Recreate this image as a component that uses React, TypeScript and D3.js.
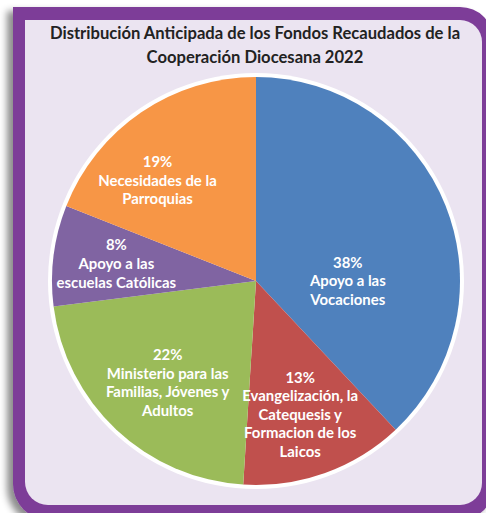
import React from "react";
import * as d3 from "d3";

const categories = [
  "Apoyo a las Vocaciones",
  "Evangelización, la Catequesis y Formacion de los Laicos",
  "Ministerio para las Familias, Jóvenes y Adultos",
  "Apoyo a las escuelas Católicas",
  "Necesidades de la Parroquias",
];
const values = [38, 13, 22, 8, 19];
const labelLines = [
  ["Apoyo a las", "Vocaciones"],
  ["Evangelización, la", "Catequesis y", "Formacion de los", "Laicos"],
  ["Ministerio para las", "Familias, Jóvenes y", "Adultos"],
  ["Apoyo a las", "escuelas Católicas"],
  ["Necesidades de la", "Parroquias"],
];
const colors = ["#4F81BD", "#C0504D", "#9BBB59", "#8064A2", "#F79646"];
const titleLines = [
  "Distribución Anticipada de los Fondos Recaudados de la",
  "Cooperación Diocesana 2022",
];

// layout (label placement: [angle in degrees clockwise from top, distance as fraction of radius])
const labelPlacement: ([number, number] | null)[] = [
  [90, 0.45],
  [161.7, 0.69],
  [221, 0.66],
  [277, 0.69],
  [315.6, 0.69],
];

const W = 486;
const H = 513;
const cx = 256;
const cy = 281;
const R = 204;

function roundRect(x0: number, y0: number, x1: number, y1: number, tl: number, tr: number, br: number, bl: number) {
  return [
    `M${x0 + tl},${y0}`,
    `L${x1 - tr},${y0}`,
    `A${tr},${tr} 0 0 1 ${x1},${y0 + tr}`,
    `L${x1},${y1 - br}`,
    `A${br},${br} 0 0 1 ${x1 - br},${y1}`,
    `L${x0 + bl},${y1}`,
    `A${bl},${bl} 0 0 1 ${x0},${y1 - bl}`,
    `L${x0},${y0 + tl}`,
    tl > 0 ? `A${tl},${tl} 0 0 1 ${x0 + tl},${y0}` : "",
    "Z",
  ].join(" ");
}

export default function App() {
  const pie = d3
    .pie<number>()
    .sort(null)
    .value((d) => d)(values);
  const arc = d3.arc<d3.PieArcDatum<number>>().innerRadius(0).outerRadius(R);
  const lineH = 18.6;
  const font = "Lato, 'Open Sans', sans-serif";

  return (
    <svg
      width={W}
      height={H}
      style={{ position: "absolute", left: 0, top: 0, display: "block" }}
      fontFamily={font}
    >
      <defs>
        <filter id="sh" x="-10%" y="-10%" width="120%" height="120%">
          <feDropShadow dx={-6} dy={4} stdDeviation={3.5} floodColor="#000" floodOpacity={0.45} />
        </filter>
      </defs>
      <rect x={0} y={0} width={W} height={H} fill="#ffffff" />
      <path d={roundRect(13, 7, 494, 520, 0, 34, 34, 36)} fill="#7D3C98" filter="url(#sh)" />
      <path d={roundRect(25, 20, 482, 505, 0, 22, 22, 23)} fill="#EBE4F1" />
      <g fontWeight="bold" fill="#222" fontSize={16.6} textAnchor="middle">
        {titleLines.map((t, i) => (
          <text key={i} x={255} y={39 + i * 23.5}>
            {t}
          </text>
        ))}
      </g>
      <g transform={`translate(${cx},${cy})`}>
        <circle r={R + 4} fill="#ffffff" />
        {pie.map((p, i) => (
          <path key={categories[i]} d={arc(p) || ""} fill={colors[i]} />
        ))}
        {pie.map((p, i) => {
          const pl = labelPlacement[i];
          const mid = (p.startAngle + p.endAngle) / 2;
          const ang = pl ? (pl[0] * Math.PI) / 180 : mid;
          const dist = pl ? pl[1] * R : 0.68 * R;
          const x = dist * Math.sin(ang);
          const y = -dist * Math.cos(ang);
          const lines = [`${values[i]}%`, ...labelLines[i]];
          const y0 = y - ((lines.length - 1) * lineH) / 2;
          return (
            <text
              key={"l" + i}
              textAnchor="middle"
              fill="#ffffff"
              fontWeight="bold"
              fontSize={14.9}
            >
              {lines.map((l, j) => (
                <tspan key={j} x={x} y={y0 + j * lineH} dy="0.35em">
                  {l}
                </tspan>
              ))}
            </text>
          );
        })}
      </g>
    </svg>
  );
}
